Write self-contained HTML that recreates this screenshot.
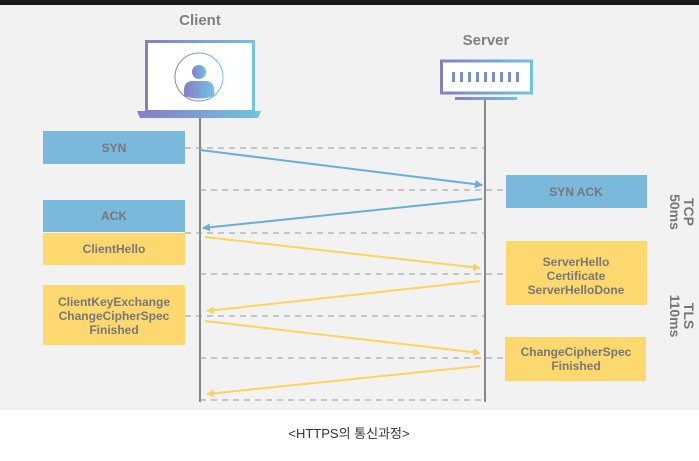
<!DOCTYPE html>
<html><head><meta charset="utf-8"><style>
body{margin:0;width:699px;height:456px;overflow:hidden;background:#fff;font-family:"Liberation Sans","Noto Sans CJK KR",sans-serif}
</style></head><body>
<svg width="699" height="456" xmlns="http://www.w3.org/2000/svg" font-family="Liberation Sans, Noto Sans CJK KR, sans-serif">
<defs>
<linearGradient id="g" x1="0" x2="1"><stop offset="0" stop-color="#8a7cc4"/><stop offset="1" stop-color="#6fc3e3"/></linearGradient>
<marker id="ab" markerWidth="8" markerHeight="8" refX="7" refY="4" orient="auto" markerUnits="userSpaceOnUse"><path d="M0,0 L8,4 L0,8 z" fill="#6aaed6"/></marker>
<marker id="ay" markerWidth="8" markerHeight="8" refX="7" refY="4" orient="auto" markerUnits="userSpaceOnUse"><path d="M0,0 L8,4 L0,8 z" fill="#fbd45f"/></marker>
</defs>
<rect x="0" y="0" width="699" height="410" fill="#f2f2f2"/>
<rect x="0" y="0" width="699" height="5" fill="#1a1a1a"/>
<text x="200" y="25" text-anchor="middle" font-size="15" font-weight="bold" fill="#808080">Client</text>
<text x="486" y="45" text-anchor="middle" font-size="15" font-weight="bold" fill="#808080">Server</text>
<rect x="146.5" y="41.5" width="107" height="70" fill="#fff" stroke="url(#g)" stroke-width="3"/>
<path d="M137 111 H261 L258 118 H140 z" fill="url(#g)"/>
<circle cx="199" cy="77" r="24" fill="none" stroke="url(#g)" stroke-width="1"/>
<circle cx="199" cy="72" r="7" fill="url(#g)"/>
<path d="M184 96 V90 Q184 81 193 81 H205 Q214 81 214 90 V96 Q199 101 184 96z" fill="url(#g)"/>
<rect x="441.5" y="61" width="90" height="32" fill="#fff" stroke="url(#g)" stroke-width="3"/>
<g fill="#7a8fd0"><rect x="452" y="72" width="3" height="10"/><rect x="460" y="72" width="3" height="10"/><rect x="468" y="72" width="3" height="10"/><rect x="476" y="72" width="3" height="10"/><rect x="484" y="72" width="3" height="10"/><rect x="492" y="72" width="3" height="10"/><rect x="500" y="72" width="3" height="10"/><rect x="508" y="72" width="3" height="10"/><rect x="516" y="72" width="3" height="10"/></g>
<rect x="455" y="97" width="62" height="3" fill="url(#g)"/>
<line x1="200" y1="118" x2="200" y2="402" stroke="#888" stroke-width="2"/>
<line x1="485" y1="100" x2="485" y2="402" stroke="#888" stroke-width="2"/>
<g stroke="#999" stroke-dasharray="6,5" stroke-width="1">
<line x1="185" y1="148" x2="485" y2="148"/><line x1="200" y1="190" x2="506" y2="190"/>
<line x1="185" y1="233" x2="485" y2="233"/><line x1="200" y1="274" x2="506" y2="274"/>
<line x1="185" y1="316" x2="485" y2="316"/><line x1="200" y1="358" x2="506" y2="358"/>
<line x1="200" y1="400" x2="485" y2="400"/>
</g>
<g stroke-width="2">
<line x1="200" y1="150" x2="482" y2="185" stroke="#6aaed6" marker-end="url(#ab)"/>
<line x1="482" y1="199" x2="203" y2="228" stroke="#6aaed6" marker-end="url(#ab)"/>
<line x1="205" y1="237" x2="480" y2="268" stroke="#fbd45f" marker-end="url(#ay)"/>
<line x1="480" y1="281" x2="207" y2="311" stroke="#fbd45f" marker-end="url(#ay)"/>
<line x1="205" y1="321" x2="480" y2="353" stroke="#fbd45f" marker-end="url(#ay)"/>
<line x1="480" y1="366" x2="207" y2="394" stroke="#fbd45f" marker-end="url(#ay)"/>
</g>
<g font-size="12" font-weight="bold" fill="#777" text-anchor="middle">
<rect x="43" y="131" width="142" height="33" fill="#7ab8dc"/><text x="114" y="152">SYN</text>
<rect x="43" y="200" width="142" height="32" fill="#7ab8dc"/><text x="114" y="220">ACK</text>
<rect x="43" y="233" width="142" height="32" fill="#fdd86e"/><text x="114" y="253">ClientHello</text>
<rect x="43" y="285" width="142" height="60" fill="#fdd86e"/><text x="114" y="306">ClientKeyExchange</text><text x="114" y="320">ChangeCipherSpec</text><text x="114" y="334">Finished</text>
<rect x="506" y="175" width="141" height="33" fill="#7ab8dc"/><text x="576" y="196">SYN ACK</text>
<rect x="506" y="241" width="141" height="64" fill="#fdd86e"/><text x="576" y="266">ServerHello</text><text x="576" y="280">Certificate</text><text x="576" y="294">ServerHelloDone</text>
<rect x="505" y="337" width="141" height="44" fill="#fdd86e"/><text x="576" y="356">ChangeCipherSpec</text><text x="576" y="370">Finished</text>
</g>
<g font-size="14" font-weight="bold" fill="#777" text-anchor="middle">
<text transform="translate(684,212) rotate(90)">TCP</text>
<text transform="translate(670,212) rotate(90)">50ms</text>
<text transform="translate(684,316) rotate(90)">TLS</text>
<text transform="translate(670,316) rotate(90)">110ms</text>
</g>
<text x="349" y="438" text-anchor="middle" font-size="13" fill="#333">&lt;HTTPS의 통신과정&gt;</text>
</svg>
</body></html>
